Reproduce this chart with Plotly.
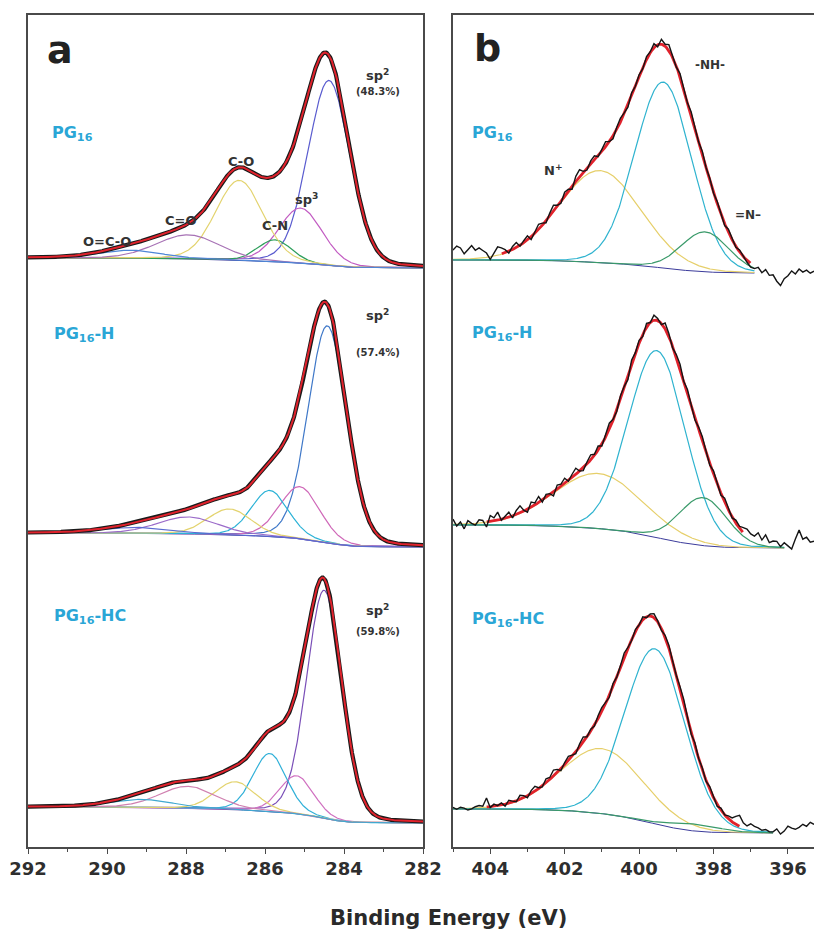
import numpy as np
import plotly.graph_objects as go

# ---------------- DATA ----------------
# C 1s (panel a): peak centre (eV), height (a.u.), FWHM (eV)
C1S_NAMES = ["sp2", "sp3", "C-N", "C-O", "C=O", "O=C-O"]
PG16_C1S_CENTER = [284.38, 285.10, 285.75, 286.65, 287.95, 289.40]
PG16_C1S_HEIGHT = [185, 55, 22, 80, 24, 8]
PG16_C1S_FWHM = [1.25, 1.30, 1.00, 1.40, 1.90, 1.80]
PG16_C1S_BG = [579, 589]          # low-BE side, high-BE side

PG16H_C1S_CENTER = [284.42, 285.12, 285.88, 286.90, 287.95, 289.20]
PG16H_C1S_HEIGHT = [217, 52, 46, 26, 17, 6]
PG16H_C1S_FWHM = [1.15, 1.20, 1.10, 1.30, 1.80, 2.00]
PG16H_C1S_BG = [300, 314]

PG16HC_C1S_CENTER = [284.50, 285.20, 285.88, 286.75, 287.95, 289.10]
PG16HC_C1S_HEIGHT = [228, 38, 58, 28, 22, 8]
PG16HC_C1S_FWHM = [1.05, 1.00, 1.00, 1.20, 1.70, 1.80]
PG16HC_C1S_BG = [24, 40]

# N 1s (panel b)
N1S_NAMES = ["N+", "-NH-", "=N-"]
PG16_N1S_CENTER = [401.05, 399.35, 398.23]
PG16_N1S_HEIGHT = [92, 186, 40]
PG16_N1S_FWHM = [2.60, 1.80, 1.50]
PG16_N1S_BG = [574, 587]
PG16_N1S_FIT = [396.9, 405.0]
PG16_N1S_ENV = [397.0, 403.7]

PG16H_N1S_CENTER = [401.10, 399.52, 398.28]
PG16H_N1S_HEIGHT = [55, 187, 48]
PG16H_N1S_FWHM = [2.80, 1.80, 1.50]
PG16H_N1S_BG = [299, 322]
PG16H_N1S_FIT = [396.1, 405.0]
PG16H_N1S_ENV = [397.2, 404.1]

PG16HC_N1S_CENTER = [401.00, 399.57, 398.50]
PG16HC_N1S_HEIGHT = [65, 175, 7]
PG16HC_N1S_FWHM = [2.60, 1.90, 1.60]
PG16HC_N1S_BG = [14, 38]
PG16HC_N1S_FIT = [396.4, 405.0]
PG16HC_N1S_ENV = [397.3, 404.1]

# raw N 1s counts: deviation from fit, every 0.1 eV from 405.0 eV down to 395.3 eV
PG16_N1S_NOISE = [9, 13, 11, 5, 9, 13, 8, 10, 7, 4,
                  -3, 2, 8, 6, 3, -2, 3, 5, -1, 2,
                  4, -3, 1, 5, 2, -2, 3, 6, 1, -2,
                  4, 2, -3, 5, 7, 1, -2, 3, 4, -1,
                  2, 5, 0, -3, 2, 4, 1, -2, 3, 0,
                  2, -1, 3, 1, 4, -2, 5, 2, 6, 1,
                  -1, 3, 0, -2, 2, 1, -1, 3, 0, 2,
                  -1, 2, 0, -2, 3, 1, -1, 2, 0, -2,
                  -4, -3, 0, -4, 0, -5, -4, -10, -14, -7, -4, 1, -2, 3, 0, 2, -1, 1]
PG16H_N1S_NOISE = [5, -2, 2, -5, 3, 0, -2, 3, 2, -5,
                   6, 3, 8, -1, 2, 5, -2, 4, 7, 1,
                   -3, 5, 2, 6, -2, 3, 1, -4, 4, 2,
                   5, -1, 3, 6, 0, -3, 2, 5, 1, 4,
                   -2, 3, 6, 1, -1, 4, 2, -3, 5, 1,
                   3, -2, 4, 0, 5, 2, -1, 6, 3, -2,
                   2, 4, -1, 3, 0, -3, 2, 4, 1, -2,
                   3, 0, -2, 4, 1, -1, 3, 2, 5, 7,
                   5, 5, 10, 4, 10, 3, 5, 5, 0, 4, 1, -2, 8, 17, 8, 10, 5, 6]
PG16HC_N1S_NOISE = [1, -1, 1, 0, -2, -1, 1, 2, 1, 9,
                    -1, 2, 0, 2, -2, 3, 1, -1, 4, 2,
                    -2, 3, 5, 1, -1, 4, 2, 6, 3, -2,
                    2, 4, 1, -2, 3, 5, 0, 2, -1, 3,
                    4, 1, -2, 3, 0, 2, 5, 1, -1, 2,
                    0, 3, -1, 2, 4, 1, -2, 2, 3, 0,
                    -1, 2, 4, 1, -2, 3, 0, 2, -1, 3,
                    1, -2, 2, 0, 3, 4, 8, 11, 5, 3,
                    6, 4, 3, 1, 2, 0, 0, 3, -2, 1, 6, 4, 3, 5, 8, 6, 10, 8]

C1S_TICKS = [292, 290, 288, 286, 284, 282]
N1S_TICKS = [404, 402, 400, 398, 396]

# ---------------- STYLE ----------------
C1S_COLORS = [
    ["#5a5ccf", "#c25bc2", "#2e9e5b", "#e3d36e", "#a772b5", "#4e86d6"],
    ["#3f78c8", "#cf68b8", "#2bb2d6", "#e3d36e", "#9b6bc9", "#5a6ad0"],
    ["#7a4fb8", "#d070c0", "#30b0d8", "#e3d36e", "#d080b0", "#40a8d0"],
]
N1S_COLORS = ["#e6cf6a", "#2fb3cf", "#3a9a6a"]
BG_COLOR = "#3b3b9b"
RED = "#e0222c"
LABEL = "#333333"
CYAN_TXT = "#2aa6d6"
FONT = "DejaVu Sans"
ETA_C = 0.12
ETA_N = 0.05


def pv(x, c, h, fwhm, eta):
    s = fwhm / 2.3548
    g = np.exp(-(x - c) ** 2 / (2 * s * s))
    lor = 1.0 / (1.0 + ((x - c) / (fwhm / 2)) ** 2)
    return h * ((1 - eta) * g + eta * lor)


def model(x_asc, centers, heights, fwhms, bg, eta):
    comps = [pv(x_asc, c, h, w, eta) for c, h, w in zip(centers, heights, fwhms)]
    total = np.sum(comps, axis=0)
    cum = np.cumsum(total)
    cum = cum / cum[-1]
    back = bg[0] + (bg[1] - bg[0]) * cum
    return comps, total, back


fig = go.Figure()

# ---- panel a ----
xa = np.linspace(282.0, 292.0, 801)
c1s_sets = [
    (PG16_C1S_CENTER, PG16_C1S_HEIGHT, PG16_C1S_FWHM, PG16_C1S_BG),
    (PG16H_C1S_CENTER, PG16H_C1S_HEIGHT, PG16H_C1S_FWHM, PG16H_C1S_BG),
    (PG16HC_C1S_CENTER, PG16HC_C1S_HEIGHT, PG16HC_C1S_FWHM, PG16HC_C1S_BG),
]
for k, (cen, hei, fw, bg) in enumerate(c1s_sets):
    comps, total, back = model(xa, cen, hei, fw, bg, ETA_C)
    fig.add_trace(go.Scatter(x=xa, y=back, mode="lines", line=dict(color=BG_COLOR, width=1),
                             xaxis="x", yaxis="y", showlegend=False, hoverinfo="skip"))
    for j in range(len(cen)):
        fig.add_trace(go.Scatter(x=xa, y=back + comps[j], mode="lines",
                                 line=dict(color=C1S_COLORS[k][j], width=1.2),
                                 name=C1S_NAMES[j], xaxis="x", yaxis="y", showlegend=False))
    fig.add_trace(go.Scatter(x=xa, y=back + total, mode="lines", line=dict(color="#1a1a1a", width=4.2),
                             xaxis="x", yaxis="y", showlegend=False))
    fig.add_trace(go.Scatter(x=xa, y=back + total, mode="lines", line=dict(color=RED, width=2),
                             xaxis="x", yaxis="y", showlegend=False))

# ---- panel b ----
n1s_sets = [
    (PG16_N1S_CENTER, PG16_N1S_HEIGHT, PG16_N1S_FWHM, PG16_N1S_BG, PG16_N1S_FIT, PG16_N1S_ENV, PG16_N1S_NOISE),
    (PG16H_N1S_CENTER, PG16H_N1S_HEIGHT, PG16H_N1S_FWHM, PG16H_N1S_BG, PG16H_N1S_FIT, PG16H_N1S_ENV, PG16H_N1S_NOISE),
    (PG16HC_N1S_CENTER, PG16HC_N1S_HEIGHT, PG16HC_N1S_FWHM, PG16HC_N1S_BG, PG16HC_N1S_FIT, PG16HC_N1S_ENV, PG16HC_N1S_NOISE),
]
for cen, hei, fw, bg, fit, env, noise in n1s_sets:
    xb = np.linspace(fit[0], fit[1], 600)
    comps, total, back = model(xb, cen, hei, fw, bg, ETA_N)
    fig.add_trace(go.Scatter(x=xb, y=back, mode="lines", line=dict(color=BG_COLOR, width=1),
                             xaxis="x2", yaxis="y2", showlegend=False, hoverinfo="skip"))
    for j in range(len(cen)):
        fig.add_trace(go.Scatter(x=xb, y=back + comps[j], mode="lines",
                                 line=dict(color=N1S_COLORS[j], width=1.2),
                                 name=N1S_NAMES[j], xaxis="x2", yaxis="y2", showlegend=False))
    m = (xb >= env[0]) & (xb <= env[1])
    fig.add_trace(go.Scatter(x=xb[m], y=(back + total)[m], mode="lines", line=dict(color=RED, width=2.8),
                             xaxis="x2", yaxis="y2", showlegend=False))
    xr = 405.0 - 0.1 * np.arange(len(noise))
    rtot = np.sum([pv(xr, c, h, w, ETA_N) for c, h, w in zip(cen, hei, fw)], axis=0)
    rback = np.interp(xr, xb, back, left=bg[0], right=bg[1])
    fig.add_trace(go.Scatter(x=xr, y=rback + rtot + np.array(noise), mode="lines",
                             line=dict(color="#151515", width=1.4),
                             xaxis="x2", yaxis="y2", showlegend=False))

# ---------------- ANNOTATIONS ----------------
ann = []


def txt(x, y, t, size, color=LABEL, xref="x", yref="y", xanchor="center"):
    ann.append(dict(x=x, y=y, xref=xref, yref=yref, text=t, showarrow=False, xanchor=xanchor,
                    yanchor="middle", font=dict(family=FONT, size=size, color=color, weight=700)))


txt(291.2, 797, "a", 38, "#222")
txt(291.44, 714, "PG<sub>16</sub>", 16, CYAN_TXT, xanchor="left")
txt(286.61, 686, "C-O", 13)
txt(288.13, 627, "C=O", 13)
txt(290.0, 606, "O=C-O", 13)
txt(285.75, 622, "C-N", 13)
txt(284.96, 648, "sp<sup>3</sup>", 13)
txt(283.16, 772, "sp<sup>2</sup>", 13)
txt(283.14, 756, "(48.3%)", 10)
txt(291.40, 513, "PG<sub>16</sub>-H", 16, CYAN_TXT, xanchor="left")
txt(283.16, 532, "sp<sup>2</sup>", 13)
txt(283.14, 495, "(57.4%)", 10)
txt(291.40, 231, "PG<sub>16</sub>-HC", 16, CYAN_TXT, xanchor="left")
txt(283.16, 237, "sp<sup>2</sup>", 13)
txt(283.14, 216, "(59.8%)", 10)

txt(404.06, 799, "b", 38, "#222", xref="x2", yref="y2")
txt(404.54, 714, "PG<sub>16</sub>", 16, CYAN_TXT, xref="x2", yref="y2", xanchor="left")
txt(402.31, 677, "N<sup>+</sup>", 13, xref="x2", yref="y2")
txt(398.09, 782, "-NH-", 12, xref="x2", yref="y2")
txt(397.07, 632, "=N\u2013", 12, xref="x2", yref="y2")
txt(404.54, 514, "PG<sub>16</sub>-H", 16, CYAN_TXT, xref="x2", yref="y2", xanchor="left")
txt(404.54, 228, "PG<sub>16</sub>-HC", 16, CYAN_TXT, xref="x2", yref="y2", xanchor="left")

ann.append(dict(x=448 / 814, y=1 - 918 / 932, xref="paper", yref="paper", text="Binding Energy (eV)",
                showarrow=False, xanchor="center", yanchor="middle",
                font=dict(family=FONT, size=21, color="#2a2a2a", weight=700)))

ydom = [85 / 932, 917 / 932]
axline = dict(showline=True, linecolor="#4a4a4a", linewidth=1.6, showgrid=False, zeroline=False,
              automargin=False)
tickfont = dict(family=FONT, size=18, color="#2e2e2e", weight=700)

fig.update_layout(
    width=814, height=932, margin=dict(l=0, r=0, t=0, b=0, autoexpand=False),
    paper_bgcolor="white", plot_bgcolor="white", showlegend=False,
    annotations=ann,
    xaxis=dict(domain=[28 / 814, 423 / 814], range=[292, 282], anchor="y", tickvals=C1S_TICKS,
               ticks="outside", ticklen=5, tickwidth=1.4, tickcolor="#4a4a4a", mirror=True,
               tickfont=tickfont, minor=dict(dtick=1, ticks="outside", ticklen=3, tickcolor="#4a4a4a"),
               **axline),
    xaxis2=dict(domain=[453 / 814, 1.0], range=[405, 395.3], anchor="y2", tickvals=N1S_TICKS,
                ticks="outside", ticklen=5, tickwidth=1.4, tickcolor="#4a4a4a", mirror=True,
                tickfont=tickfont, minor=dict(dtick=1, ticks="outside", ticklen=3, tickcolor="#4a4a4a"),
                **axline),
    xaxis3=dict(overlaying="x", side="top", anchor="y", range=[292, 282], tickvals=C1S_TICKS,
                ticks="inside", ticklen=4, tickcolor="#4a4a4a", showticklabels=False, automargin=False,
                showgrid=False, zeroline=False, minor=dict(dtick=1, ticks="inside", ticklen=2)),
    xaxis4=dict(overlaying="x2", side="top", anchor="y2", range=[405, 395.3], tickvals=N1S_TICKS,
                ticks="inside", ticklen=4, tickcolor="#4a4a4a", showticklabels=False, automargin=False,
                showgrid=False, zeroline=False, minor=dict(dtick=1, ticks="inside", ticklen=2)),
    yaxis=dict(domain=ydom, range=[0, 832], anchor="x", mirror=True, showticklabels=False, ticks="",
               **axline),
    yaxis2=dict(domain=ydom, range=[0, 832], anchor="x2", mirror=False, showticklabels=False, ticks="",
                **axline),
)

fig.write_html("out.html")
